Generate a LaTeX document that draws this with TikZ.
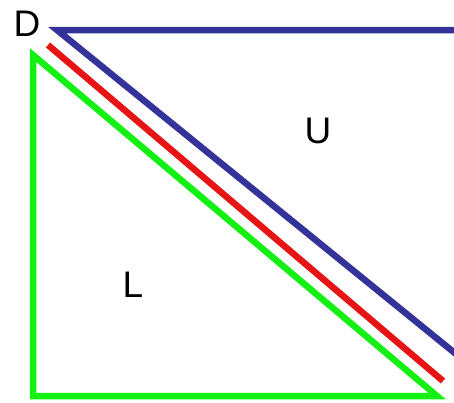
\documentclass[tikz,border=0pt]{standalone}
\usepackage{fontspec}
\setmainfont{Liberation Sans}
\begin{document}
\begin{tikzpicture}[x=1pt,y=-1pt,
  edge/.style={line width=6.5pt,line cap=butt,line join=miter},
  lbl/.style={font=\fontsize{37}{40}\selectfont,inner sep=0pt}]
\useasboundingbox (0,0) rectangle (454,402);
\definecolor{bl}{RGB}{51,51,153}
\definecolor{rd}{RGB}{230,20,20}
\definecolor{gr}{RGB}{20,240,20}
\coordinate (b1) at (57,30);
\coordinate (b2) at (456,30);
\coordinate (b3) at (456,354);
\coordinate (r1) at (48,45);
\coordinate (r2) at (443,381);
\coordinate (g1) at (33,55);
\coordinate (g2) at (33,396);
\coordinate (g3) at (437,396);
\draw[edge,bl] (b2) -- (b1) -- (b3);
\draw[edge,rd] (r1) -- (r2);
\draw[edge,gr] (g3) -- (g1) -- (g2) -- cycle;
\node[lbl] (D) at (27,24) {D};
\node[lbl] (U) at (318,131) {U};
\node[lbl] (L) at (133,285) {L};
\end{tikzpicture}
\end{document}
